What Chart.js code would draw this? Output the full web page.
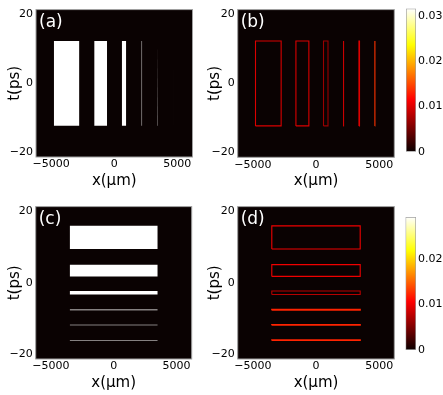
<!DOCTYPE html>
<html>
<head>
<meta charset="utf-8">
<script src="https://cdn.jsdelivr.net/npm/chart.js@4/dist/chart.umd.min.js"></script>
<style>
  html, body { margin: 0; padding: 0; background: #fff; }
  #wrap { position: relative; width: 443px; height: 395px; overflow: hidden; }
  canvas { position: absolute; }
</style>
</head>
<body>
<div id="wrap">
  <canvas id="panelA" width="200" height="197" style="left:0;top:0"></canvas>
  <canvas id="panelB" width="200" height="197" style="left:200px;top:0"></canvas>
  <canvas id="cbarB" width="43" height="170" style="left:400px;top:0"></canvas>
  <canvas id="panelC" width="200" height="198" style="left:0;top:197px"></canvas>
  <canvas id="panelD" width="200" height="198" style="left:200px;top:197px"></canvas>
  <canvas id="cbarD" width="43" height="198" style="left:400px;top:197px"></canvas>
</div>
<script>
// vertical stripes of (a) / their edges in (b): x extents in µm, t extent in ps
const stripeLeft  = [-4790, -1590, 595, 2150, 3400, 4660];
const stripeRight = [-2760, -565, 950, 2215, 3445, 4668];
const stripeTop = 12.3;
const stripeBottom = -12.3;
const edgeB = [0.0098, 0.0098, 0.0068, 0.0090, 0.0100, 0.0140];

// horizontal bands of (c) / their edges in (d): t extents in ps, x extent in µm
const bandTop    = [16.0, 5.1, -2.3, -7.5, -11.75, -16.05];
const bandBottom = [9.5, 1.8, -3.3, -7.7, -11.9, -16.17];
const bandXmin = -3500;
const bandXmax = 3500;
const edgeD = [0.0100, 0.0100, 0.0075, 0.0122, 0.0122, 0.0122];

// axes and colour bars
const xRange = [-6200, 6200];
const tRange = [-21.4, 21.4];
const xTicks = [-5000, 0, 5000];
const tTicks = [-20, 0, 20];
const cbarMaxB = 0.0317;
const cbarMaxD = 0.0292;

Chart.defaults.font.family = 'DejaVu Sans';
Chart.defaults.font.size = 11;
Chart.defaults.color = '#000';

const BG = '#0a0202';

function hot(f) {
  f = Math.max(0, Math.min(1, f));
  const r = f < 0.365 ? 0.0416 + f / 0.365 * 0.9584 : 1;
  const g = f < 0.365 ? 0 : (f < 0.746 ? (f - 0.365) / 0.381 : 1);
  const b = f < 0.746 ? 0 : (f - 0.746) / 0.254;
  return `rgb(${Math.round(r * 255)},${Math.round(g * 255)},${Math.round(b * 255)})`;
}

const minusFmt = v => (v < 0 ? '\u2212' + Math.abs(v) : String(v));

// dark image background, frame and panel letter
const panelDeco = {
  id: 'panelDeco',
  beforeDatasetsDraw(chart) {
    const { ctx, chartArea: a } = chart;
    ctx.save();
    ctx.fillStyle = BG;
    ctx.fillRect(a.left, a.top, a.right - a.left, a.bottom - a.top);
    ctx.restore();
  },
  afterDatasetsDraw(chart, args, opts) {
    const { ctx, chartArea: a } = chart;
    ctx.save();
    ctx.strokeStyle = '#a0a0a0';
    ctx.lineWidth = 1;
    ctx.strokeRect(a.left, a.top, a.right - a.left, a.bottom - a.top);
    ctx.fillStyle = '#fff';
    ctx.font = '17px DejaVu Sans';
    ctx.textBaseline = 'middle';
    ctx.fillText(opts.text, a.left + 3, a.top + 13);
    ctx.restore();
  }
};

function makePanel(id, datasets, lay) {
  new Chart(document.getElementById(id), {
    type: 'line',
    data: { datasets },
    options: {
      responsive: false,
      animation: false,
      events: [],
      layout: { padding: { left: 0, top: lay.top, right: lay.right, bottom: 0 } },
      elements: { point: { radius: 0 }, line: { tension: 0 } },
      plugins: {
        legend: { display: false },
        tooltip: { enabled: false },
        panelDeco: { text: lay.label }
      },
      scales: {
        x: {
          type: 'linear',
          min: xRange[0], max: xRange[1],
          grid: { display: false, drawTicks: false },
          border: { display: false },
          afterBuildTicks: s => { s.ticks = xTicks.map(v => ({ value: v })); },
          ticks: { padding: 1, callback: minusFmt },
          title: { display: true, text: 'x(\u03bcm)', font: { size: 15 }, padding: { top: 0, bottom: lay.xTitlePad } },
          afterFit: s => { s.height = lay.xH; }
        },
        y: {
          type: 'linear',
          min: tRange[0], max: tRange[1],
          grid: { display: false, drawTicks: false },
          border: { display: false },
          afterBuildTicks: s => { s.ticks = tTicks.map(v => ({ value: v })); },
          ticks: { padding: 3, callback: minusFmt },
          title: { display: true, text: 't(ps)', font: { size: 15 }, padding: { top: 6.5, bottom: 0 } },
          afterFit: s => { s.width = lay.yW; }
        }
      }
    },
    plugins: [panelDeco]
  });
}

function makeColorbar(id, max, pad) {
  new Chart(document.getElementById(id), {
    type: 'bar',
    data: {
      labels: [''],
      datasets: [{
        data: [[0, max]],
        backgroundColor: c => {
          const ch = c.chart;
          if (!ch.chartArea) return '#000';
          const y = ch.scales.y;
          const g = ch.ctx.createLinearGradient(0, y.getPixelForValue(0), 0, y.getPixelForValue(max));
          [0, 0.365, 0.746, 1].forEach(s => g.addColorStop(s, hot(s)));
          return g;
        },
        borderColor: '#a0a0a0',
        borderWidth: 1,
        borderSkipped: false,
        barPercentage: 1,
        categoryPercentage: 1
      }]
    },
    options: {
      responsive: false,
      animation: false,
      events: [],
      layout: { padding: pad },
      plugins: { legend: { display: false }, tooltip: { enabled: false } },
      scales: {
        x: { display: false },
        y: {
          position: 'right',
          min: 0, max,
          grid: { display: false, drawTicks: false },
          border: { display: false },
          ticks: { stepSize: 0.01, includeBounds: false, padding: 2,
                   callback: v => (v === 0 ? '0' : v.toFixed(2)) },
          afterFit: s => { s.width = 27; }
        }
      }
    }
  });
}

// (a) filled stripes
const dsA = stripeLeft.map((l, i) => ({
  data: [{ x: l, y: stripeTop }, { x: stripeRight[i], y: stripeTop }],
  fill: { value: stripeBottom },
  backgroundColor: '#ffffff',
  borderColor: 'transparent',
  borderWidth: 0
}));

// (b) stripe edges
const dsB = stripeLeft.map((l, i) => ({
  data: [
    { x: l, y: stripeBottom }, { x: l, y: stripeTop },
    { x: stripeRight[i], y: stripeTop }, { x: stripeRight[i], y: stripeBottom },
    { x: l, y: stripeBottom }
  ],
  fill: false,
  borderColor: hot(edgeB[i] / cbarMaxB),
  borderWidth: 1.1
}));

// (c) filled bands
const dsC = bandTop.map((t, i) => ({
  data: [{ x: bandXmin, y: t }, { x: bandXmax, y: t }],
  fill: { value: bandBottom[i] },
  backgroundColor: '#ffffff',
  borderColor: 'transparent',
  borderWidth: 0
}));

// (d) band edges
const dsD = bandTop.map((t, i) => ({
  data: [
    { x: bandXmin, y: bandBottom[i] }, { x: bandXmin, y: t },
    { x: bandXmax, y: t }, { x: bandXmax, y: bandBottom[i] },
    { x: bandXmin, y: bandBottom[i] }
  ],
  fill: false,
  borderColor: hot(edgeD[i] / cbarMaxD),
  borderWidth: i > 2 ? 1.3 : 1.1
}));

makePanel('panelA', dsA, { label: '(a)', top: 1.5, right: 7.5, yW: 36, xH: 40, xTitlePad: 6.5 });
makePanel('panelB', dsB, { label: '(b)', top: 1.5, right: 5.7, yW: 37.7, xH: 39.7, xTitlePad: 6.5 });
makePanel('panelC', dsC, { label: '(c)', top: 5, right: 8.3, yW: 35.7, xH: 36, xTitlePad: 2.5 });
makePanel('panelD', dsD, { label: '(d)', top: 5, right: 5.7, yW: 37.7, xH: 36, xTitlePad: 2.5 });

makeColorbar('cbarB', cbarMaxB, { left: 6, top: 7, right: 0, bottom: 18.3 });
makeColorbar('cbarD', cbarMaxD, { left: 5.5, top: 20, right: 0, bottom: 45 });
</script>
</body>
</html>
